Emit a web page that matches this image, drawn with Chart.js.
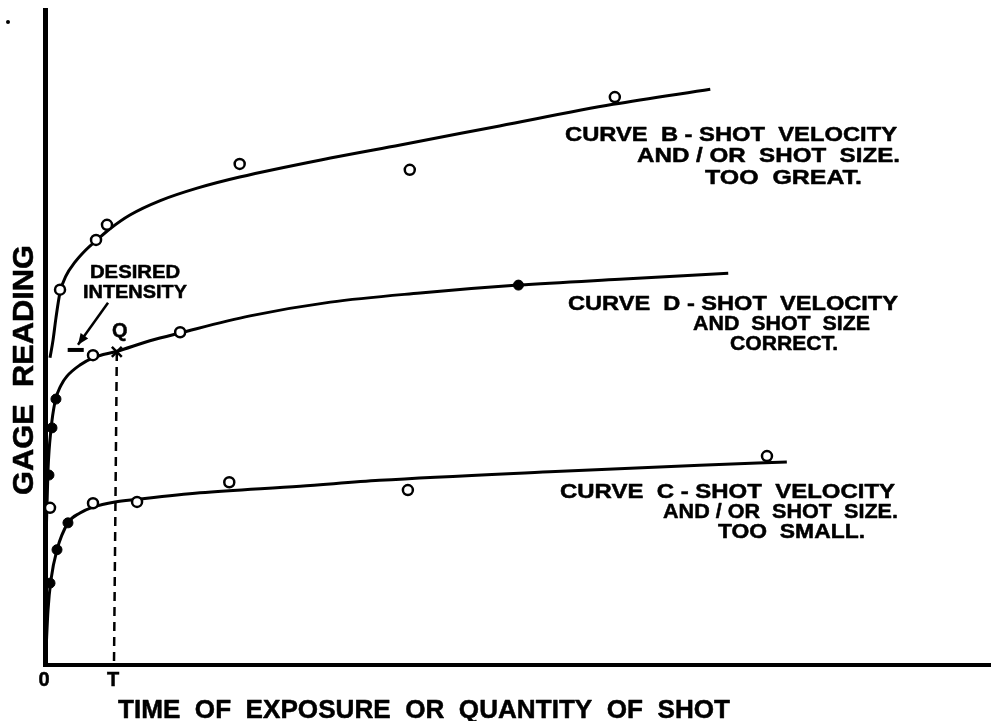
<!DOCTYPE html>
<html>
<head>
<meta charset="utf-8">
<script src="https://cdn.jsdelivr.net/npm/chart.js@4.4.1/dist/chart.umd.min.js"></script>
<style>
  html, body { margin: 0; padding: 0; background: #fff; overflow: hidden; }
  canvas { display: block; }
</style>
</head>
<body>
<canvas id="c" width="991" height="721" style="width:991px;height:721px"></canvas>
<script>
// ---- Data (x: exposure, y: gage reading; arbitrary units 0-100) ----
const curveBX = [0.53, 0.85, 1.16, 1.59, 2.22, 3.17, 4.34, 5.50, 6.88, 8.99, 12.2, 16.1, 20.6, 30.2, 37.6, 48.1, 60.1, 70.4];
const curveBY = [46.9, 49.6, 53.0, 56.9, 59.4, 61.5, 63.4, 64.9, 66.6, 68.7, 70.9, 72.8, 74.5, 77.4, 79.4, 82.3, 85.6, 87.9];
const curveBOpenX = [1.59, 5.40, 6.56, 20.6, 38.6, 60.3];
const curveBOpenY = [57.3, 64.9, 67.2, 76.5, 75.6, 86.7];

const curveDX = [0.11, 0.32, 0.63, 1.06, 1.69, 2.33, 3.70, 5.08, 7.62, 11.1, 14.3, 21.7, 30.2, 39.7, 50.1, 60.8, 72.3];
const curveDY = [19.1, 29.8, 35.9, 40.2, 42.7, 44.1, 45.8, 46.9, 47.9, 49.5, 50.7, 53.3, 55.4, 56.8, 58.0, 58.9, 59.8];
const curveDOpenX = [5.08, 14.3];
const curveDOpenY = [47.3, 50.8];
const curveDSolidX = [0.42, 0.74, 1.16, 50.1];
const curveDSolidY = [29.0, 36.2, 40.6, 58.0];

const curveCX = [0.05, 0.11, 0.32, 0.63, 1.27, 2.43, 3.70, 5.08, 7.41, 9.74, 16.4, 27.0, 35.4, 53.4, 69.3, 78.5];
const curveCY = [0.5, 2.3, 8.4, 13.0, 17.6, 21.7, 23.2, 24.1, 24.9, 25.3, 26.3, 27.3, 28.2, 29.5, 30.5, 31.0];
const curveCOpenX = [0.53, 5.08, 9.74, 19.5, 38.4, 76.4];
const curveCOpenY = [24.0, 24.7, 24.9, 27.9, 26.7, 31.9];
const curveCSolidX = [0.53, 1.27, 2.43];
const curveCSolidY = [12.5, 17.6, 21.7];

const pointQ = { x: 7.6, y: 47.8 };
const timeT = 7.3;
const desiredLevel = 48.1;
const xTickValues = [0, timeT];
const xTickLabels = ['0', 'T'];

const xTitle = 'TIME  OF  EXPOSURE  OR  QUANTITY  OF  SHOT';
const yTitle = 'GAGE  READING';
const noteB = ['CURVE  B - SHOT  VELOCITY', 'AND / OR  SHOT  SIZE.', 'TOO  GREAT.'];
const noteD = ['CURVE  D - SHOT  VELOCITY', 'AND  SHOT  SIZE', 'CORRECT.'];
const noteC = ['CURVE  C - SHOT  VELOCITY', 'AND / OR  SHOT  SIZE.', 'TOO  SMALL.'];
const desiredText = ['DESIRED', 'INTENSITY'];

// ---- helpers ----
const zip = (xs, ys) => xs.map((x, i) => ({ x: x, y: ys[i] }));
const FONT = '"Liberation Sans", Arial, sans-serif';

function lineDs(data, extra) {
  return Object.assign({
    data: data, showLine: true, borderColor: '#000', borderWidth: 3,
    pointRadius: 0, pointHoverRadius: 0, cubicInterpolationMode: 'monotone',
    fill: false, order: 2
  }, extra || {});
}
function openPts(data) {
  return { data: data, showLine: false, pointRadius: 5, pointBorderWidth: 2.5,
    pointBackgroundColor: '#fff', pointBorderColor: '#000', order: 0 };
}
function solidPts(data) {
  return { data: data, showLine: false, pointRadius: 5, pointBorderWidth: 1,
    pointBackgroundColor: '#000', pointBorderColor: '#000', order: 0 };
}

function fitText(ctx, text, x, baseline, width, size) {
  ctx.save();
  ctx.font = 'bold ' + size + 'px ' + FONT;
  ctx.textBaseline = 'alphabetic';
  ctx.textAlign = 'left';
  const w = ctx.measureText(text).width;
  ctx.translate(x, baseline);
  ctx.scale(width / w, 1);
  ctx.fillStyle = '#000';
  ctx.strokeStyle = '#000';
  ctx.lineWidth = 0.5;
  ctx.lineJoin = 'round';
  ctx.fillText(text, 0, 0);
  ctx.strokeText(text, 0, 0);
  ctx.restore();
}

const annotations = {
  id: 'annotations',
  afterDraw(chart) {
    const ctx = chart.ctx;
    const xs = chart.scales.x, ys = chart.scales.y;
    const px = v => xs.getPixelForValue(v);
    const py = v => ys.getPixelForValue(v);

    // curve notes
    fitText(ctx, noteB[0], 565, 141, 332, 21);
    fitText(ctx, noteB[1], 637, 162, 263, 21);
    fitText(ctx, noteB[2], 705, 184, 157, 21);
    fitText(ctx, noteD[0], 568, 310, 330, 21);
    fitText(ctx, noteD[1], 693, 330, 177, 21);
    fitText(ctx, noteD[2], 730, 350, 108, 21);
    fitText(ctx, noteC[0], 560, 498, 335, 21);
    fitText(ctx, noteC[1], 663, 518, 235, 21);
    fitText(ctx, noteC[2], 718, 538, 147, 21);

    // desired intensity label
    fitText(ctx, desiredText[0], 90, 278, 90, 18);
    fitText(ctx, desiredText[1], 83, 298, 104, 18);

    // arrow to desired intensity level
    const ax1 = px(6.67), ay1 = py(55.3), ax2 = px(3.49), ay2 = py(48.9);
    ctx.save();
    ctx.strokeStyle = '#000'; ctx.fillStyle = '#000'; ctx.lineWidth = 2.5;
    ctx.beginPath(); ctx.moveTo(ax1, ay1); ctx.lineTo(ax2, ay2); ctx.stroke();
    const ang = Math.atan2(ay2 - ay1, ax2 - ax1);
    ctx.beginPath();
    ctx.moveTo(ax2, ay2);
    ctx.lineTo(ax2 - 12 * Math.cos(ang - 0.4), ay2 - 12 * Math.sin(ang - 0.4));
    ctx.lineTo(ax2 - 12 * Math.cos(ang + 0.4), ay2 - 12 * Math.sin(ang + 0.4));
    ctx.closePath(); ctx.fill();
    // short bar marking the desired level
    ctx.lineWidth = 4;
    ctx.beginPath(); ctx.moveTo(px(2.4), py(desiredLevel)); ctx.lineTo(px(4.1), py(desiredLevel)); ctx.stroke();
    ctx.restore();

    // Q label
    ctx.save();
    ctx.font = 'bold 20px ' + FONT;
    ctx.fillStyle = '#000'; ctx.strokeStyle = '#000'; ctx.lineWidth = 0.5;
    ctx.textAlign = 'center'; ctx.textBaseline = 'alphabetic';
    ctx.fillText('Q', px(pointQ.x) + 3, py(pointQ.y) - 15);
    ctx.strokeText('Q', px(pointQ.x) + 3, py(pointQ.y) - 15);
    // tick labels
    xTickValues.forEach((v, i) => {
      ctx.fillText(xTickLabels[i], px(v) - 1, 686);
      ctx.strokeText(xTickLabels[i], px(v) - 1, 686);
    });
    ctx.restore();

    // axis titles
    fitText(ctx, xTitle, 118, 718, 612, 26);
    ctx.save();
    ctx.translate(33, 495);
    ctx.rotate(-Math.PI / 2);
    fitText(ctx, yTitle, 0, 0, 250, 30);
    ctx.restore();

    // speck in the top-left corner of the scan
    ctx.save();
    ctx.fillStyle = '#000';
    ctx.beginPath(); ctx.arc(8, 22, 2, 0, Math.PI * 2); ctx.fill();
    ctx.restore();
  }
};

new Chart(document.getElementById('c'), {
  type: 'scatter',
  data: {
    datasets: [
      lineDs(zip(curveBX, curveBY)),
      lineDs(zip(curveDX, curveDY)),
      lineDs(zip(curveCX, curveCY)),
      lineDs([{ x: pointQ.x, y: pointQ.y }, { x: timeT, y: 0 }],
             { borderDash: [9, 6], borderWidth: 2.5, cubicInterpolationMode: 'default', tension: 0 }),
      openPts(zip(curveBOpenX, curveBOpenY)),
      openPts(zip(curveDOpenX, curveDOpenY)),
      solidPts(zip(curveDSolidX, curveDSolidY)),
      openPts(zip(curveCOpenX, curveCOpenY)),
      solidPts(zip(curveCSolidX, curveCSolidY)),
      { data: [pointQ], showLine: false, pointStyle: 'crossRot', pointRadius: 7,
        pointBorderWidth: 2.5, pointBorderColor: '#000', order: 0 }
    ]
  },
  options: {
    responsive: false,
    maintainAspectRatio: false,
    animation: false,
    events: [],
    layout: { autoPadding: false, padding: { left: 45, right: 1, top: 10, bottom: 56 } },
    plugins: { legend: { display: false }, tooltip: { enabled: false } },
    scales: {
      x: {
        type: 'linear', min: 0, max: 100,
        grid: { display: false, drawTicks: false },
        border: { display: true, color: '#000', width: 4 },
        ticks: { display: false }
      },
      y: {
        type: 'linear', min: 0, max: 100,
        grid: { display: false, drawTicks: false },
        border: { display: true, color: '#000', width: 5 },
        ticks: { display: false }
      }
    }
  },
  plugins: [annotations]
});
</script>
</body>
</html>
